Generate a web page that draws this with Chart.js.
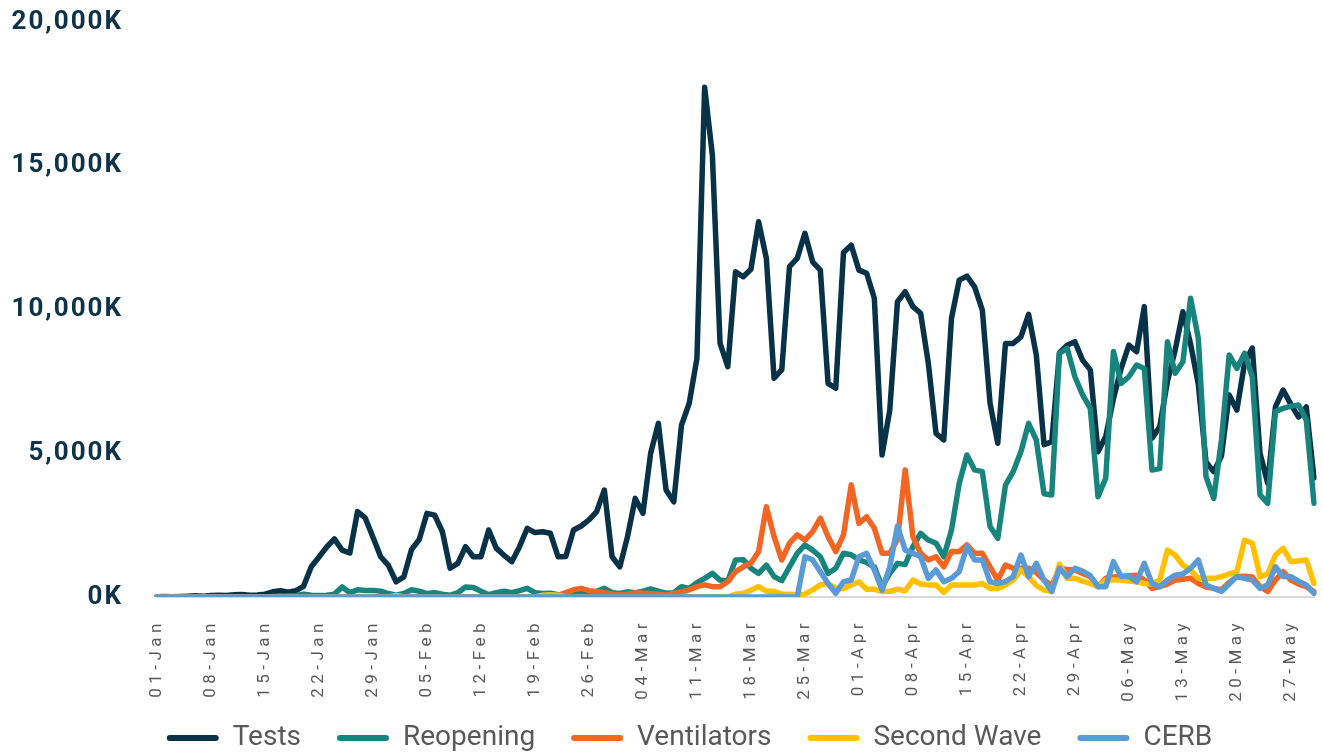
<!DOCTYPE html>
<html>
<head>
<meta charset="utf-8">
<script src="https://cdn.jsdelivr.net/npm/chart.js@4.4.1/dist/chart.umd.min.js"></script>
<style>
  html, body { margin: 0; padding: 0; background: #fff; }
  #wrap { width: 1323px; height: 753px; position: relative; }
</style>
</head>
<body>
<div id="wrap"><canvas id="chart1"></canvas></div>
<script>
// daily values, 01-Jan to 30-May (2020), in thousands
const monthNames = ['Jan', 'Feb', 'Mar', 'Apr', 'May'];
const monthDays = [31, 29, 31, 30, 30];

const tests = [
  10, 20, 10, 20, 30, 40, 30, 50, 60, 50, 80, 90, 60, 70, 100, 180, 220, 170, 220, 370,
  1050, 1390, 1740, 2020, 1630, 1530, 2970, 2750, 2080, 1400,
  1100, 530, 700, 1650, 2000, 2910, 2850, 2270, 1000, 1170,
  1750, 1400, 1400, 2330, 1690, 1450, 1230, 1750, 2390, 2240,
  2270, 2215, 1400, 1410, 2330, 2470, 2680, 2970, 3720, 1400,
  1050, 2100, 3430, 2910, 5000, 6040, 3720, 3310, 5980, 6740,
  8300, 17730, 15370, 8820, 8010, 11310, 11140, 11400, 13050, 11780,
  7610, 7900, 11490, 11780, 12650, 11660, 11370, 7430, 7260, 11980,
  12240, 11370, 11260, 10390, 4940, 6500, 10270, 10620, 10100, 9870,
  8130, 5690, 5460, 9690, 11020, 11160, 10790, 9980, 6740, 5350,
  8820, 8820, 9050, 9830, 8420, 5300, 5400, 8500, 8760, 8880,
  8240, 7900, 5050, 5580, 6900, 7950, 8760, 8530, 10100, 5520,
  5920, 7500, 8590, 9920, 8800, 7400, 4700, 4360, 4900, 7030,
  6500, 8140, 8660, 5000, 3950, 6610, 7200, 6700, 6260, 6610,
  4140
];

const reopening = [
  0, 0, 0, 0, 0, 0, 0, 0, 0, 0, 0, 0, 0, 0, 0, 20, 30, 40, 50, 100,
  60, 50, 60, 100, 350, 150, 250, 230, 230, 200,
  120, 60, 120, 250, 200, 120, 150, 100, 60, 150,
  350, 330, 200, 80, 150, 200, 150, 220, 300, 150,
  120, 130, 80, 100, 80, 150, 100, 200, 300, 150,
  120, 180, 150, 200, 280, 200, 130, 150, 360, 300,
  500, 650, 820, 590, 560, 1290, 1300, 1000, 820, 1110,
  710, 570, 1050, 1520, 1810, 1630, 1400, 820, 1000, 1520,
  1470, 1290, 1200, 1050, 360, 820, 1170, 1130, 1750, 2210,
  1980, 1870, 1400, 2330, 3950, 4940, 4420, 4360, 2450, 2040,
  3890, 4360, 5050, 6040, 5460, 3590, 3550, 8480, 8650, 7660,
  7030, 6560, 3490, 4130, 8540, 7430, 7660, 8070, 7950, 4420,
  4470, 8880, 7780, 8180, 10390, 9000, 4190, 3430, 5460, 8420,
  7950, 8480, 7660, 3550, 3260, 6450, 6560, 6640, 6680, 6160,
  3260
];

const ventilators = [
  0, 0, 0, 0, 0, 0, 0, 0, 0, 0, 0, 0, 0, 0, 0, 0, 0, 0, 0, 0,
  0, 0, 0, 0, 0, 0, 0, 0, 0, 0,
  0, 0, 0, 0, 0, 0, 0, 0, 0, 0,
  0, 0, 0, 0, 0, 0, 0, 0, 0, 0,
  0, 30, 50, 150, 250, 300, 220, 180, 150, 100,
  80, 100, 150, 130, 120, 100, 70, 120, 180, 250,
  360, 420, 360, 360, 530, 880, 1050, 1170, 1580, 3140,
  2100, 1290, 1870, 2160, 1980, 2270, 2740, 2100, 1580, 2160,
  3900, 2560, 2790, 2390, 1520, 1520, 2000, 4420, 2100, 1520,
  1290, 1400, 1050, 1580, 1580, 1810, 1520, 1520, 1050, 590,
  1110, 1000, 1000, 1000, 850, 590, 400, 1000, 960, 940,
  820, 710, 360, 650, 700, 710, 740, 760, 600, 300,
  360, 450, 590, 620, 650, 470, 350, 300, 250, 500,
  710, 720, 700, 360, 190, 590, 880, 590, 450, 360,
  190
];

const secondWave = [
  0, 0, 0, 0, 0, 0, 0, 0, 0, 0, 0, 0, 0, 0, 0, 0, 0, 0, 0, 0,
  0, 0, 0, 0, 0, 0, 0, 0, 0, 0,
  0, 50, 0, 0, 0, 0, 0, 0, 0, 0,
  0, 0, 0, 0, 0, 0, 0, 0, 0, 0,
  60, 80, 60, 0, 0, 0, 0, 0, 0, 0,
  0, 0, 0, 0, 0, 0, 0, 0, 0, 0,
  0, 0, 0, 0, 0, 100, 130, 240, 360, 200,
  200, 100, 100, 80, 100, 250, 420, 470, 300, 300,
  420, 530, 270, 270, 190, 200, 270, 220, 590, 450,
  420, 420, 160, 420, 420, 420, 420, 470, 300, 300,
  420, 590, 940, 710, 400, 240, 200, 1140, 650, 650,
  550, 470, 360, 590, 590, 590, 560, 530, 470, 450,
  590, 1630, 1460, 1110, 940, 650, 650, 650, 710, 800,
  880, 1980, 1870, 710, 800, 1460, 1690, 1230, 1250, 1290,
  470
];

const cerb = [
  0, 0, 0, 0, 0, 0, 0, 0, 0, 0, 0, 0, 0, 0, 0, 0, 0, 0, 0, 0,
  0, 0, 0, 0, 0, 0, 0, 0, 0, 0,
  0, 0, 0, 0, 0, 0, 0, 0, 0, 0,
  0, 0, 0, 0, 0, 0, 0, 0, 0, 0,
  0, 0, 0, 0, 0, 0, 0, 0, 0, 0,
  0, 0, 0, 0, 0, 0, 0, 0, 0, 0,
  0, 0, 0, 0, 0, 0, 0, 0, 0, 0,
  0, 0, 0, 0, 1400, 1290, 880, 470, 130, 530,
  590, 1400, 1520, 940, 240, 1050, 2470, 1630, 1520, 1400,
  650, 940, 530, 650, 880, 1750, 1290, 1290, 530, 470,
  530, 710, 1460, 710, 1170, 590, 190, 1000, 710, 1000,
  900, 740, 360, 360, 1230, 710, 710, 530, 1170, 470,
  360, 590, 760, 800, 1000, 1290, 420, 300, 190, 450,
  710, 650, 590, 300, 420, 1050, 710, 710, 550, 420,
  130
];

const seriesNames = ['Tests', 'Reopening', 'Ventilators', 'Second Wave', 'CERB'];
const seriesColors = ['#083248', '#17857e', '#f26522', '#ffc000', '#5b9bd5'];
const seriesValues = [tests, reopening, ventilators, secondWave, cerb];

const yTicks = [0, 5000, 10000, 15000, 20000];

let labels = [];
monthNames.forEach((m, mi) => {
  for (let d = 1; d <= monthDays[mi]; d++) {
    labels.push(String(d).padStart(2, '0') + '-' + m);
  }
});

// letter spacing on the tick labels, and no clipping of them
const spaceLabels = (scale, spacing) => {
  const orig = scale.drawLabels;
  scale.drawLabels = function (area) {
    this.ctx.save();
    this.ctx.letterSpacing = spacing;
    orig.call(this, area);
    this.ctx.restore();
    this.ctx.letterSpacing = '0px';
  };
  scale._computeLabelArea = () => undefined;
};

const tickTweaks = {
  id: 'tickTweaks',
  afterLayout(chart) {
    if (chart._tweaked) return;
    spaceLabels(chart.scales.x, '4.5px');
    spaceLabels(chart.scales.y, '2px');
    chart._tweaked = true;
  }
};

const ctx1 = document.querySelector('#chart1');

const chart1 = new Chart(ctx1, {
  type: 'line',
  data: {
    labels: labels,
    datasets: seriesNames.map((name, i) => ({
      label: name,
      data: seriesValues[i],
      borderColor: seriesColors[i],
      backgroundColor: seriesColors[i],
      borderWidth: 5.5,
      pointRadius: 0,
      tension: 0,
      borderJoinStyle: 'round',
      borderCapStyle: 'round',
      order: seriesNames.length - i
    }))
  },
  options: {
    responsive: true,
    maintainAspectRatio: false,
    animation: false,
    layout: {
      padding: { top: 22, right: 9, bottom: -9, left: 65 }
    },
    plugins: {
      tooltip: { enabled: false },
      legend: {
        position: 'bottom',
        labels: {
          color: '#595959',
          font: { family: 'Roboto', size: 28 },
          boxWidth: 52,
          boxHeight: 6,
          padding: 36,
          useBorderRadius: true,
          borderRadius: 3,
          generateLabels(chart) {
            const items = Chart.defaults.plugins.legend.labels.generateLabels(chart);
            items.forEach(it => { it.lineWidth = 0; });
            return items.sort((a, b) => a.datasetIndex - b.datasetIndex);
          }
        }
      }
    },
    scales: {
      x: {
        type: 'category',
        grid: { display: false },
        border: { display: true, color: '#d9d9d9', width: 2 },
        ticks: {
          autoSkip: false,
          minRotation: 90,
          maxRotation: 90,
          padding: 14,
          color: '#595959',
          font: { family: 'Roboto', size: 17 },
          callback: (val, idx) => (idx % 7 === 0 ? labels[idx] : '')
        },
        afterFit: (scale) => {
          scale.height = 91;
          scale.paddingLeft = 0;
          scale.paddingRight = 0;
        }
      },
      y: {
        min: 0,
        max: 20000,
        grid: { display: false, drawTicks: false },
        border: { display: false },
        afterBuildTicks: (scale) => {
          scale.ticks = yTicks.map(v => ({ value: v }));
        },
        ticks: {
          padding: 34,
          color: '#0c3349',
          font: { family: 'Roboto', size: 26, weight: 'bold' },
          callback: (v) => v.toLocaleString('en-US') + 'K'
        },
        afterFit: (scale) => {
          scale.width = 92;
          scale.paddingTop = 0;
          scale.paddingBottom = 0;
        }
      }
    }
  },
  plugins: [tickTweaks]
});
</script>
</body>
</html>
